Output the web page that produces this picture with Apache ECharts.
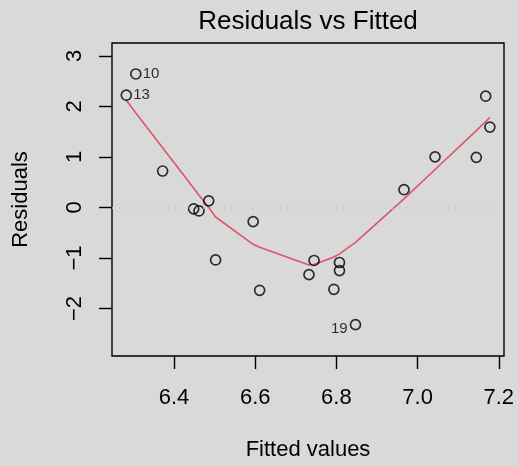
<!DOCTYPE html>
<html>
<head>
<meta charset="utf-8">
<script src="https://cdn.jsdelivr.net/npm/echarts@6/dist/echarts.min.js"></script>
<style>
  html, body { margin: 0; padding: 0; background: #d9d9d9; }
  #chart { width: 519px; height: 466px; }
</style>
</head>
<body>
<div id="chart"></div>
<script>
// Fitted values and residuals of the linear model, sorted by fitted value
const fitted = [6.2825, 6.306, 6.372, 6.4485, 6.4616, 6.4855, 6.5025, 6.595, 6.611, 6.7325,
                6.745, 6.7938, 6.8076, 6.8076, 6.847, 6.9665, 7.043, 7.1446, 7.1677, 7.178];
const residuals = [2.22, 2.64, 0.72, -0.03, -0.07, 0.13, -1.04, -0.28, -1.64, -1.33,
                   -1.05, -1.62, -1.09, -1.25, -2.32, 0.35, 1.00, 0.99, 2.20, 1.59];
// Observation ids shown next to the most extreme residuals
const pointIds = ['13', '10', '', '', '', '', '', '', '', '',
                  '', '', '', '', '19', '', '', '', '', ''];
// Lowess smooth evaluated at the sorted fitted values
const smooth = [2.12, 1.87, 1.18, 0.38, 0.24, 0.0, -0.19, -0.73, -0.79, -1.14,
                -1.13, -0.98, -0.92, -0.92, -0.69, 0.17, 0.75, 1.52, 1.70, 1.78];
const xTicks = [6.4, 6.6, 6.8, 7.0, 7.2];
const yTicks = [-2, -1, 0, 1, 2, 3];

const FONT = "'Liberation Sans', Arial, Helvetica, sans-serif";

const chart = echarts.init(document.getElementById('chart'), null, { renderer: 'canvas' });

const pointData = fitted.map((x, i) => {
  const item = { value: [x, residuals[i]] };
  if (pointIds[i]) {
    const left = pointIds[i] === '19';
    item.label = {
      show: true,
      formatter: pointIds[i],
      position: left ? 'left' : 'right',
      distance: left ? 2 : 1,
      offset: left ? [0, 4] : [0, 0],
      fontSize: 15,
      fontFamily: FONT,
      color: '#000'
    };
  }
  return item;
});

chart.setOption({
  backgroundColor: '#d9d9d9',
  animation: false,
  grid: {
    left: 112, top: 43, right: 15, bottom: 110,
    show: true, borderColor: '#000', borderWidth: 1.4, backgroundColor: 'transparent'
  },
  graphic: [{
    type: 'text',
    x: 308, y: 22,
    style: {
      text: 'Residuals vs Fitted',
      font: '26px ' + FONT,
      fill: '#000',
      align: 'center',
      verticalAlign: 'middle'
    }
  }],
  xAxis: {
    type: 'value',
    min: 6.2473, max: 7.2128,
    name: 'Fitted values',
    nameLocation: 'middle',
    nameGap: 83,
    nameTextStyle: { fontSize: 22, fontFamily: FONT, color: '#000' },
    axisLine: { show: false, onZero: false },
    splitLine: { show: false },
    axisTick: { show: true, length: 13, customValues: xTicks, lineStyle: { color: '#000', width: 1.4 } },
    axisLabel: {
      customValues: xTicks, margin: 31, fontSize: 22, fontFamily: FONT, color: '#000',
      formatter: v => v.toFixed(1)
    }
  },
  yAxis: {
    type: 'value',
    min: -2.94, max: 3.253,
    name: 'Residuals',
    nameLocation: 'middle',
    nameRotate: 90,
    nameGap: 80,
    nameTextStyle: { fontSize: 22, fontFamily: FONT, color: '#000' },
    axisLine: { show: false, onZero: false },
    splitLine: { show: false },
    axisTick: { show: true, length: 13, customValues: yTicks, lineStyle: { color: '#000', width: 1.4 } },
    axisLabel: {
      customValues: yTicks, rotate: 90, margin: 26, fontSize: 22, fontFamily: FONT, color: '#000',
      formatter: v => (v < 0 ? '\u2212' + Math.abs(v) : String(v))
    }
  },
  series: [
    {
      type: 'line',
      data: fitted.map((x, i) => [x, smooth[i]]),
      showSymbol: false,
      symbol: 'none',
      lineStyle: { color: '#DF536B', width: 1.6 },
      z: 2,
      markLine: {
        silent: true,
        symbol: 'none',
        label: { show: false },
        lineStyle: { color: '#bebebe', type: [1.5, 5.5], width: 1.5 },
        data: [{ yAxis: 0 }]
      }
    },
    {
      type: 'scatter',
      data: pointData,
      symbol: 'circle',
      symbolSize: 10,
      itemStyle: { color: 'rgba(0,0,0,0)', borderColor: '#000', borderWidth: 1.7 },
      z: 3
    }
  ]
});
</script>
</body>
</html>
